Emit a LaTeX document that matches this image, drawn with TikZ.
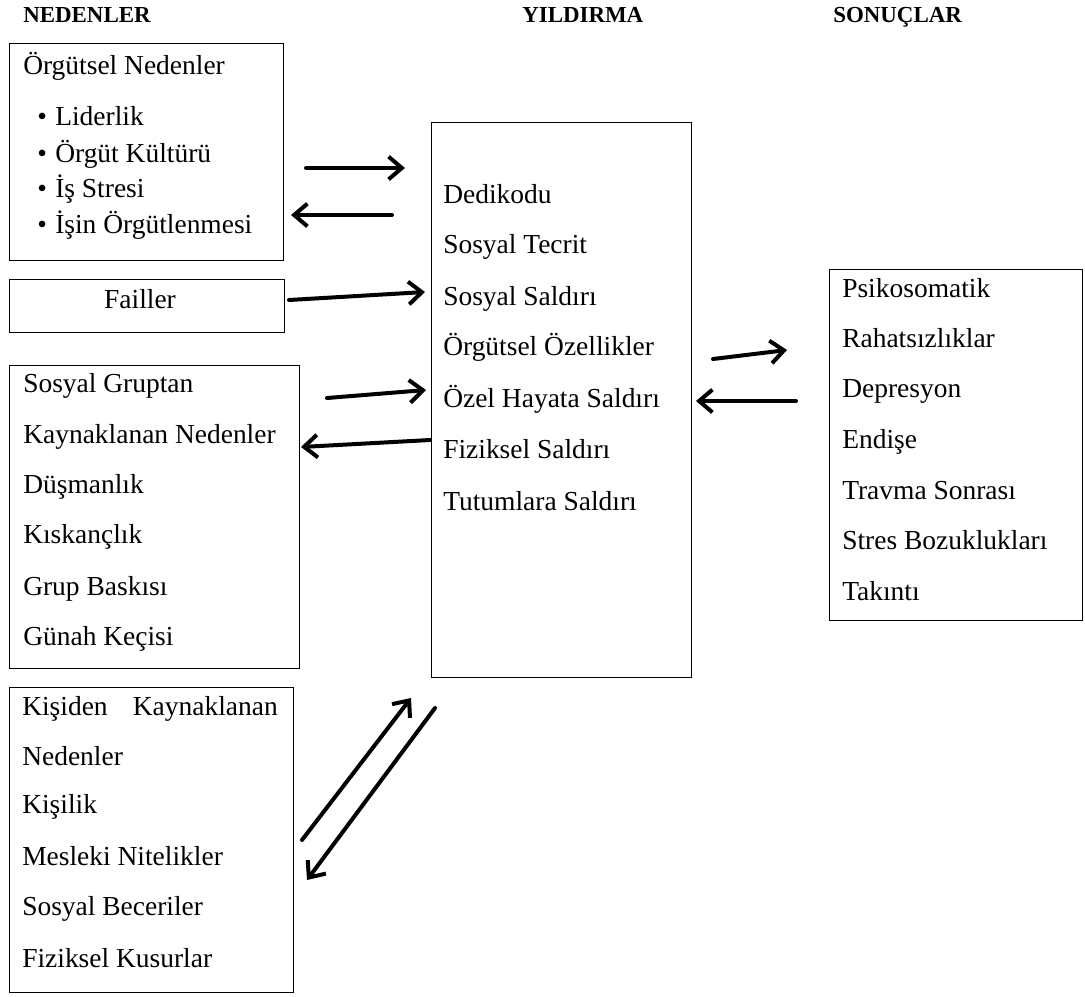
\documentclass[tikz,border=0pt]{standalone}
\usepackage{fontspec}
\setmainfont{Liberation Serif}
\usetikzlibrary{arrows.meta}
\tikzset{
  txt/.style={anchor=base west, inner sep=0pt, font=\fontsize{20.6}{24}\selectfont},
  hdr/.style={anchor=base west, inner sep=0pt, font=\fontsize{17.2}{20}\selectfont\bfseries},
  box/.style={draw, line width=0.75pt, anchor=north west, inner sep=0pt},
  arr/.style={line width=3pt, line cap=round, -{Straight Barb[length=10pt,width=17pt,line width=3pt]}}
}
\begin{document}
\begin{tikzpicture}[x=0.75pt,y=-0.75pt]
\useasboundingbox (0,0) rectangle (1085,996);
% headers
\node[hdr] (h1) at (23,22) {NEDENLER};
\node[hdr] (h2) at (522,22) {YILDIRMA};
\node[hdr] (h3) at (833,22) {SONUÇLAR};
% boxes
\node[box, minimum width=205.5pt, minimum height=162.75pt] (b1) at (9,43) {};
\node[box, minimum width=206.25pt, minimum height=39.75pt] (b2) at (9,279) {};
\node[box, minimum width=217.5pt, minimum height=227.25pt] (b3) at (9,365) {};
\node[box, minimum width=213pt, minimum height=228.75pt] (b4) at (9,687) {};
\node[box, minimum width=195pt, minimum height=416.25pt] (bc) at (431,122) {};
\node[box, minimum width=189.75pt, minimum height=263.25pt] (br) at (829,269) {};
% box 1
\node[txt] (t11) at (23,74) {Örgütsel Nedenler};
\node[txt] (d1) at (37,125) {•};
\node[txt] (t12) at (55,125) {Liderlik};
\node[txt] (d2) at (37,162) {•};
\node[txt] (t13) at (55,162) {Örgüt Kültürü};
\node[txt] (d3) at (37,197) {•};
\node[txt] (t14) at (55,197) {İş Stresi};
\node[txt] (d4) at (37,233) {•};
\node[txt] (t15) at (55,233) {İşin Örgütlenmesi};
% box 2
\node[txt, anchor=base] (t21) at (140,308) {Failler};
% box 3
\node[txt] (t31) at (23,392) {Sosyal Gruptan};
\node[txt] (t32) at (23,443) {Kaynaklanan Nedenler};
\node[txt] (t33) at (23,493) {Düşmanlık};
\node[txt] (t34) at (23,543) {Kıskançlık};
\node[txt] (t35) at (23,595) {Grup Baskısı};
\node[txt] (t36) at (23,645) {Günah Keçisi};
% box 4
\node[txt] (t41a) at (22,715) {Kişiden};
\node[txt, anchor=base east] (t41b) at (278,715) {Kaynaklanan};
\node[txt] (t42) at (22,765) {Nedenler};
\node[txt] (t43) at (22,813) {Kişilik};
\node[txt] (t44) at (22,865) {Mesleki Nitelikler};
\node[txt] (t45) at (22,915) {Sosyal Beceriler};
\node[txt] (t46) at (22,967) {Fiziksel Kusurlar};
% center box
\node[txt] (c1) at (443,203) {Dedikodu};
\node[txt] (c2) at (443,253) {Sosyal Tecrit};
\node[txt] (c3) at (443,305) {Sosyal Saldırı};
\node[txt] (c4) at (443,355) {Örgütsel Özellikler};
\node[txt] (c5) at (443,407) {Özel Hayata Saldırı};
\node[txt] (c6) at (443,458) {Fiziksel Saldırı};
\node[txt] (c7) at (443,510) {Tutumlara Saldırı};
% right box
\node[txt] (r1) at (842,297) {Psikosomatik};
\node[txt] (r2) at (842,347) {Rahatsızlıklar};
\node[txt] (r3) at (842,397) {Depresyon};
\node[txt] (r4) at (842,448) {Endişe};
\node[txt] (r5) at (842,499) {Travma Sonrası};
\node[txt] (r6) at (842,549) {Stres Bozuklukları};
\node[txt] (r7) at (842,600) {Takıntı};
% arrow end points
\coordinate (a1s) at (306,168); \coordinate (a1e) at (405,168);
\coordinate (a2s) at (392,215); \coordinate (a2e) at (291,215);
\coordinate (a3s) at (289,300); \coordinate (a3e) at (425,292);
\coordinate (a4s) at (327,398); \coordinate (a4e) at (426,390);
\coordinate (a5s) at (430,440); \coordinate (a5e) at (301,447);
\coordinate (a6s) at (713,359); \coordinate (a6e) at (787,350);
\coordinate (a7s) at (796,401); \coordinate (a7e) at (696,401);
\coordinate (a8s) at (302,840); \coordinate (a8e) at (411,698);
\coordinate (a9s) at (435,708); \coordinate (a9e) at (307,880);
\draw[arr] (a1s) -- (a1e);
\draw[arr] (a2s) -- (a2e);
\draw[arr] (a3s) -- (a3e);
\draw[arr] (a4s) -- (a4e);
\draw[arr] (a5s) -- (a5e);
\draw[arr] (a6s) -- (a6e);
\draw[arr] (a7s) -- (a7e);
\draw[arr] (a8s) -- (a8e);
\draw[arr] (a9s) -- (a9e);
\end{tikzpicture}
\end{document}
